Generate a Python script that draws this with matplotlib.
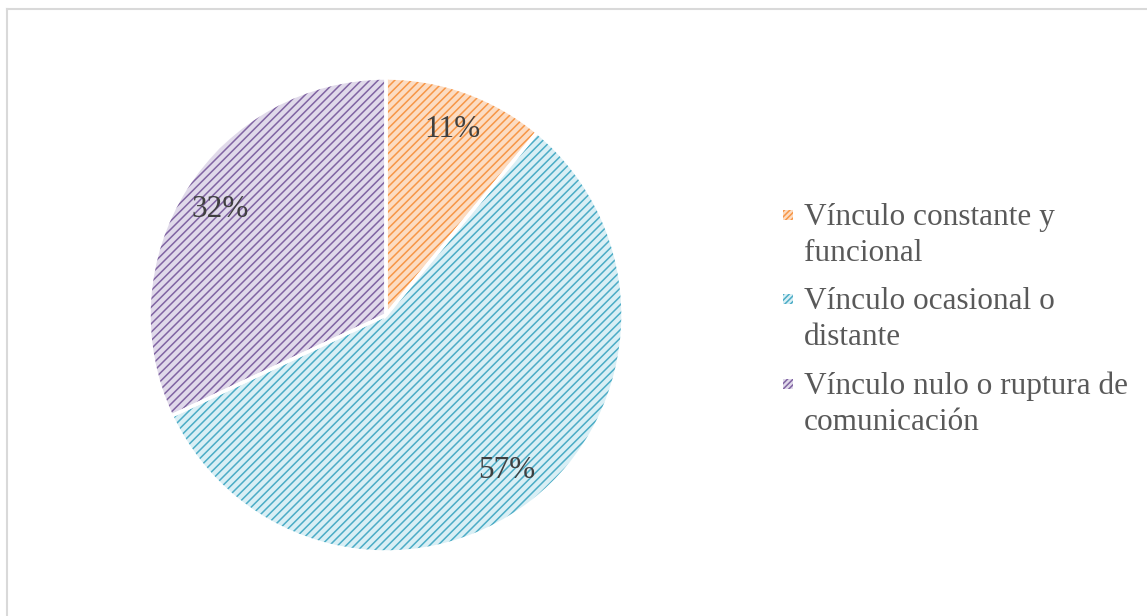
import matplotlib.pyplot as plt
from matplotlib.legend_handler import HandlerPatch
from matplotlib.patches import Rectangle
from matplotlib.lines import Line2D

labels = ["Vínculo constante y\nfuncional",
          "Vínculo ocasional o\ndistante",
          "Vínculo nulo o ruptura de\ncomunicación"]
values = [11, 57, 32]
fill_colors = ["#FCDCC2", "#D9EFF5", "#E0D9EA"]
line_colors = ["#F79646", "#4BACC6", "#8064A2"]

plt.rcParams['font.family'] = ['Liberation Serif', 'DejaVu Serif']
plt.rcParams['hatch.linewidth'] = 1.1

W, H = 1147, 616
fig = plt.figure(figsize=(W / 100, H / 100), dpi=100)

# frame lines (only top and left visible in the crop)
fig.add_artist(Line2D([7 / W, 1], [1 - 9 / H, 1 - 9 / H], color="#D9D9D9", lw=1.5))
fig.add_artist(Line2D([7 / W, 7 / W], [0, 1 - 9 / H], color="#D9D9D9", lw=1.5))

# pie circle bounds in pixels
cx, cy, r = 386, 315, 237
ax = fig.add_axes([(cx - r) / W, (H - cy - r) / H, 2 * r / W, 2 * r / H])

fs = 22.5
wedges, texts, autotexts = ax.pie(
    values, colors=fill_colors, startangle=90, counterclock=False,
    radius=1, autopct="%1.0f%%", pctdistance=0.83,
    wedgeprops=dict(linewidth=0, hatch="////"),
    textprops=dict(fontsize=fs, color="#404040"))
for w, c in zip(wedges, line_colors):
    w.set_edgecolor(c)
    w.set_linewidth(0)

# white separators on top
ax.pie(values, colors=["none"] * 3, startangle=90, counterclock=False, radius=1,
       wedgeprops=dict(linewidth=2.5, edgecolor="white"))
ax.set_xlim(-1, 1)
ax.set_ylim(-1, 1)
ax.axis("off")


class TopSquare(HandlerPatch):
    def create_artists(self, legend, orig_handle, xdescent, ydescent,
                       width, height, fontsize, trans):
        s = 0.32 * fontsize
        x = -xdescent + (width - s) / 2
        y = -ydescent + (height - s) / 2 + fontsize * 0.66
        p = Rectangle((x, y), s, s, facecolor=orig_handle.get_facecolor(),
                      edgecolor=orig_handle.get_edgecolor(), linewidth=0,
                      hatch="//////", transform=trans)
        return [p]


leg = fig.legend(wedges, labels, loc="upper left",
                 bbox_to_anchor=(766 / W, 1 - 187 / H), frameon=False,
                 fontsize=fs, labelcolor="#595959", handlelength=0.4,
                 handletextpad=0.3, labelspacing=0.61, borderpad=0,
                 handler_map={wedges[0].__class__: TopSquare()})
for t in leg.get_texts():
    t.set_linespacing(1.33)

fig.savefig("out.png", dpi=100)
